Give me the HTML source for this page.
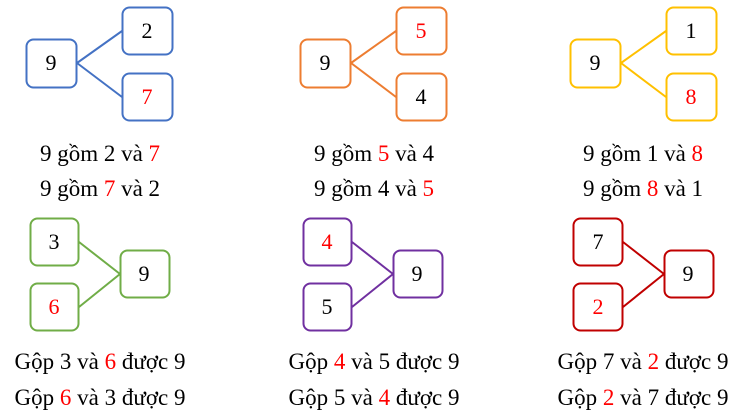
<!DOCTYPE html>
<html><head><meta charset="utf-8"><style>
html,body{margin:0;padding:0;background:#fff;}
svg{display:block;}
text{font-family:"Liberation Serif",serif;}
</style></head><body>
<svg width="744" height="416" viewBox="0 0 744 416" xmlns="http://www.w3.org/2000/svg">
<g fill="none" stroke-width="2">
<g stroke="#4472C4">
<rect x="26.5" y="39.5" width="50" height="48" rx="7"/>
<rect x="122.5" y="7.5" width="50" height="47" rx="7"/>
<rect x="122.5" y="73.5" width="50" height="47" rx="7"/>
<path d="M77 63 L122 31 M77 63 L122 97"/>
</g>
<g stroke="#ED7D31">
<rect x="300.5" y="39.5" width="50" height="48" rx="7"/>
<rect x="396.5" y="7.5" width="50" height="47" rx="7"/>
<rect x="396.5" y="73.5" width="50" height="47" rx="7"/>
<path d="M351 63 L396 31 M351 63 L396 97"/>
</g>
<g stroke="#FFC000">
<rect x="570.5" y="39.5" width="50" height="48" rx="7"/>
<rect x="666.5" y="7.5" width="50" height="47" rx="7"/>
<rect x="666.5" y="73.5" width="50" height="47" rx="7"/>
<path d="M621 63 L666 31 M621 63 L666 97"/>
</g>
<g stroke="#70AD47">
<rect x="30.5" y="218.5" width="48" height="47" rx="7"/>
<rect x="30.5" y="283.5" width="48" height="47" rx="7"/>
<rect x="120.5" y="250.5" width="49" height="47" rx="7"/>
<path d="M79 242 L120 274 M79 307 L120 274"/>
</g>
<g stroke="#7030A0">
<rect x="303.5" y="218.5" width="48" height="47" rx="7"/>
<rect x="303.5" y="283.5" width="48" height="47" rx="7"/>
<rect x="393.5" y="250.5" width="49" height="47" rx="7"/>
<path d="M352 242 L393 274 M352 307 L393 274"/>
</g>
<g stroke="#C00000">
<rect x="573.5" y="218.5" width="49" height="47" rx="7"/>
<rect x="573.5" y="283.5" width="49" height="47" rx="7"/>
<rect x="664.5" y="250.5" width="49" height="47" rx="7"/>
<path d="M623 242 L664 274 M623 307 L664 274"/>
</g>
</g>
<g font-size="22" text-anchor="middle" fill="#000">
<text x="51" y="70">9</text><text x="147" y="38">2</text><text x="147" y="104" fill="#f00">7</text>
<text x="325" y="70">9</text><text x="421" y="38" fill="#f00">5</text><text x="421" y="104">4</text>
<text x="595" y="70">9</text><text x="691" y="38">1</text><text x="691" y="104" fill="#f00">8</text>
<text x="54" y="249">3</text><text x="54" y="314" fill="#f00">6</text><text x="144" y="281">9</text>
<text x="327" y="249" fill="#f00">4</text><text x="327" y="314">5</text><text x="417" y="281">9</text>
<text x="598" y="249">7</text><text x="598" y="314" fill="#f00">2</text><text x="688" y="281">9</text>
</g>
<g font-size="23" text-anchor="middle" fill="#000">
<text x="100" y="161">9 gồm 2 và <tspan fill="#f00">7</tspan></text>
<text x="100" y="196">9 gồm <tspan fill="#f00">7</tspan> và 2</text>
<text x="374" y="161">9 gồm <tspan fill="#f00">5</tspan> và 4</text>
<text x="374" y="196">9 gồm 4 và <tspan fill="#f00">5</tspan></text>
<text x="643" y="161">9 gồm 1 và <tspan fill="#f00">8</tspan></text>
<text x="643" y="196">9 gồm <tspan fill="#f00">8</tspan> và 1</text>
<text x="100" y="369">Gộp 3 và <tspan fill="#f00">6</tspan> được 9</text>
<text x="100" y="405">Gộp <tspan fill="#f00">6</tspan> và 3 được 9</text>
<text x="374" y="369">Gộp <tspan fill="#f00">4</tspan> và 5 được 9</text>
<text x="374" y="405">Gộp 5 và <tspan fill="#f00">4</tspan> được 9</text>
<text x="643" y="369">Gộp 7 và <tspan fill="#f00">2</tspan> được 9</text>
<text x="643" y="405">Gộp <tspan fill="#f00">2</tspan> và 7 được 9</text>
</g>
</svg>
</body></html>
